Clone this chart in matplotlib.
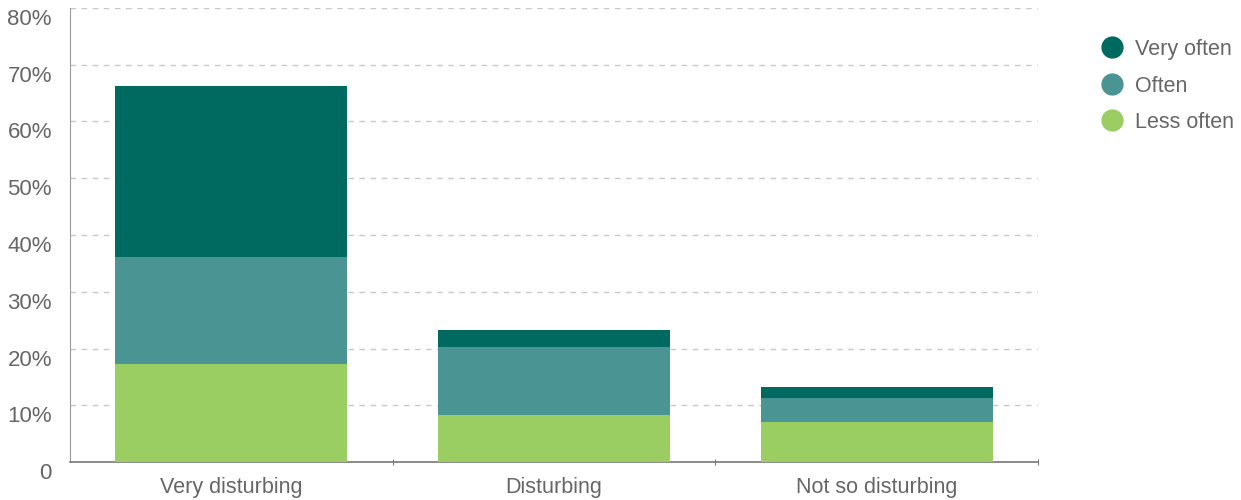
import matplotlib
matplotlib.use("Agg")
import matplotlib.pyplot as plt
import matplotlib.transforms as mtransforms
from matplotlib.lines import Line2D
import numpy as np

categories = ["Very disturbing", "Disturbing", "Not so disturbing"]
less_often = [17.2, 8.2, 7.1]
often = [18.9, 12.0, 4.1]
very_often = [30.2, 3.0, 2.0]
series_names = ["Very often", "Often", "Less often"]
colors = {"Very often": "#006a60", "Often": "#4a9493", "Less often": "#9acd62"}
yticks = [0, 10, 20, 30, 40, 50, 60, 70, 80]
ytick_labels = ["0", "10%", "20%", "30%", "40%", "50%", "60%", "70%", "80%"]

plt.rcParams['font.family'] = ['Liberation Sans', 'DejaVu Sans']
fig = plt.figure(figsize=(12.41, 5.0), dpi=100)
ax = fig.add_axes([70/1241, 38/500, 968/1241, 454/500])

x = np.arange(len(categories))
w = 0.72
ax.bar(x, less_often, w, color=colors["Less often"], zorder=3)
b2 = np.array(less_often)
ax.bar(x, often, w, bottom=b2, color=colors["Often"], zorder=3)
b3 = b2 + np.array(often)
ax.bar(x, very_often, w, bottom=b3, color=colors["Very often"], zorder=3)

ax.set_xlim(-0.5, 2.5)
ax.set_ylim(0, 80)
ax.set_yticks(yticks)
ax.set_yticklabels(ytick_labels)
ax.set_xticks(x)
ax.set_xticklabels(categories)
ax.set_xticks([0.5, 1.5, 2.5], minor=True)
ax.tick_params(axis='x', which='major', length=0, pad=11, labelsize=15.5, labelcolor='#666666')
ax.tick_params(axis='x', which='minor', length=4, direction='inout', color='#555555')
ax.tick_params(axis='y', length=0, pad=13, labelsize=16, labelcolor='#666666')

offset = mtransforms.ScaledTranslation(0, -9/100, fig.dpi_scale_trans)
for lbl in ax.get_yticklabels():
    lbl.set_transform(lbl.get_transform() + offset)

ax.yaxis.grid(True, linestyle=(0, (4, 4)), color='#c8c8c8', linewidth=1, zorder=0)
for s in ['top', 'right']:
    ax.spines[s].set_visible(False)
ax.spines['left'].set_color('#999999')
ax.spines['bottom'].set_color('#777777')
ax.spines['bottom'].set_linewidth(1.2)

handles = [Line2D([0], [0], marker='o', linestyle='', markersize=15,
                  markerfacecolor=colors[n], markeredgecolor=colors[n]) for n in series_names]
leg = fig.legend(handles, series_names, loc='upper left', bbox_to_anchor=(1099/1241, 1 - 39/500),
                 frameon=False, fontsize=15.5, handletextpad=0.45, labelspacing=0.72,
                 borderaxespad=0, borderpad=0, handlelength=1.2)
for t in leg.get_texts():
    t.set_color('#666666')

fig.savefig("out.png", dpi=100)
